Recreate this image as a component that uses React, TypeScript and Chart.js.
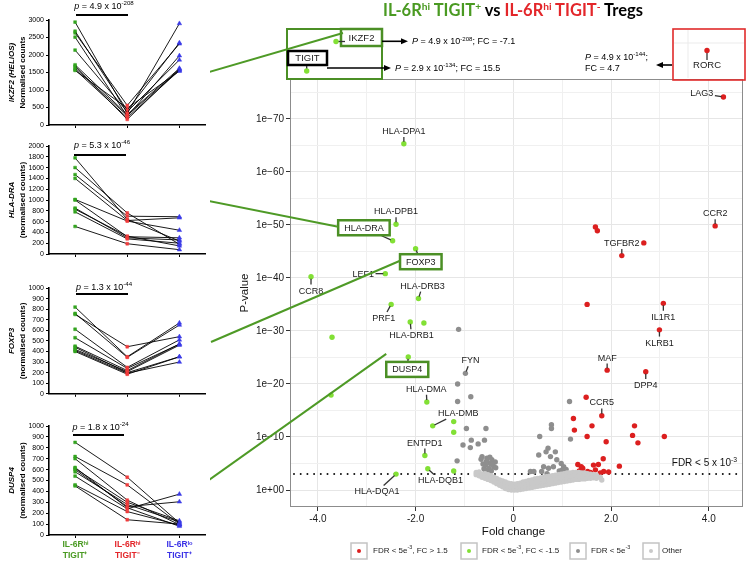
import React, { useEffect, useRef } from 'react';
import { Chart, registerables } from 'chart.js';

Chart.register(...registerables);

const FONT = '"Liberation Sans", Arial, Helvetica, sans-serif';
Chart.defaults.font.family = FONT;

// ---------------- Left panels: normalised counts per donor ----------------
const conditionTicks = [['IL-6Rʰⁱ', 'TIGIT⁺'], ['IL-6Rʰⁱ', 'TIGIT⁻'], ['IL-6Rˡᵒ', 'TIGIT⁺']];

const ikzf2Hi = [2940, 2680, 2630, 2510, 2140, 1720, 1680, 1630, 1580, 1560];
const ikzf2Neg = [330, 420, 560, 250, 380, 300, 160, 270, 210, 480];
const ikzf2Lo = [2900, 2350, 2320, 1980, 1860, 1620, 1600, 1580, 1560, 1540];

const hladraHi = [1780, 1600, 1470, 1400, 1010, 1000, 850, 780, 510, 830];
const hladraNeg = [640, 760, 700, 620, 610, 320, 300, 280, 190, 330];
const hladraLo = [240, 180, 690, 670, 440, 300, 260, 200, 80, 150];

const foxp3Hi = [820, 760, 750, 610, 530, 450, 440, 410, 400, 420];
const foxp3Neg = [350, 345, 445, 250, 240, 220, 200, 195, 185, 210];
const foxp3Lo = [670, 650, 540, 510, 470, 470, 350, 300, 350, 460];

const dusp4Hi = [850, 720, 700, 610, 600, 580, 540, 460, 450, 620];
const dusp4Neg = [530, 460, 320, 300, 260, 280, 240, 215, 140, 250];
const dusp4Lo = [110, 100, 95, 130, 305, 120, 375, 90, 100, 80];

const panelGenes = ['IKZF2 (HELIOS)', 'HLA-DRA', 'FOXP3', 'DUSP4'];
const panelUnits = ['Normalised counts', '(normalised counts)', '(normalised counts)', '(normalised counts)'];
const panelPMantissa = [4.9, 5.3, 1.3, 1.8];
const panelPExponent = [-208, -46, -44, -24];
const panelYMax = [3000, 2000, 1000, 1000];
const panelYStep = [500, 200, 100, 100];

// ---------------- Volcano plot: [gene, fold change, -log10 P] ----------------
const downGenes: [string, number, number][] = [
  ['HLA-DPA1', -2.24, 65.3], ['HLA-DPB1', -2.4, 50.1], ['HLA-DRA', -2.47, 47.0], ['FOXP3', -2.0, 45.5],
  ['LEF1', -2.62, 40.8], ['CCR8', -4.14, 40.2], ['HLA-DRB3', -1.94, 36.1], ['PRF1', -2.5, 35.0],
  ['HLA-DRB1', -2.11, 31.7], ['', -1.83, 31.5], ['', -3.71, 28.8], ['DUSP4', -2.15, 25.1],
  ['', -3.73, 17.9], ['HLA-DMA', -1.77, 16.6], ['', -1.22, 12.9], ['HLA-DMB', -1.65, 12.1],
  ['', -1.22, 10.9], ['ENTPD1', -1.81, 6.5], ['HLA-DQB1', -1.75, 4.0], ['', -1.22, 3.6],
  ['HLA-DQA1', -2.4, 3.0],
];

const upGenes: [string, number, number][] = [
  ['LAG3', 4.3, 74.1], ['CCR2', 4.13, 49.8], ['', 1.68, 49.6], ['', 1.72, 48.9], ['TGFBR2', 2.22, 44.2],
  ['', 2.67, 46.6], ['', 1.51, 35.0], ['IL1R1', 3.07, 35.2], ['KLRB1', 2.99, 30.2], ['MAF', 1.92, 22.6],
  ['DPP4', 2.71, 22.3], ['', 1.49, 17.5], ['CCR5', 1.81, 14.0], ['', 1.23, 13.5], ['', 1.61, 12.1],
  ['', 2.48, 12.1], ['', 1.25, 11.3], ['', 1.51, 10.1], ['', 2.44, 10.3], ['', 3.09, 10.1],
  ['', 1.9, 9.1], ['', 2.55, 8.9], ['', 1.84, 5.9], ['', 2.17, 4.5], ['', 1.32, 4.8], ['', 1.64, 4.7],
  ['', 1.74, 4.8], ['', 1.35, 3.6], ['', 1.52, 3.5], ['', 1.68, 3.8], ['', 1.85, 3.5], ['', 1.39, 4.4],
  ['', 1.28, 3.1], ['', 1.42, 4.1], ['', 1.47, 3.2], ['', 1.58, 3.3], ['', 1.78, 3.2], ['', 1.95, 3.4],
];

const sigGenes: [string, number, number][] = [
  ['', -1.12, 30.3], ['FYN', -0.98, 22.0], ['', -1.14, 20.0], ['', -1.14, 16.7], ['', -0.87, 17.6],
  ['', -0.96, 11.6], ['', -0.56, 11.6], ['', -0.86, 9.4], ['', -0.59, 9.4], ['', -1.03, 8.5],
  ['', -0.88, 8.0], ['', -0.72, 8.7], ['', -1.15, 5.5], ['', -0.64, 6.3], ['', -0.54, 6.0],
  ['', -0.44, 5.7], ['', -0.37, 5.3], ['', -0.47, 5.0], ['', -0.4, 4.4], ['', -0.57, 4.7],
  ['', -0.5, 4.1], ['', -0.6, 4.0], ['', -0.45, 3.6], ['', -0.52, 3.4], ['', -0.66, 5.8],
  ['', -0.62, 4.9], ['', -0.55, 5.4], ['', -0.48, 6.2], ['', -0.42, 4.8], ['', -0.36, 4.2],
  ['', -0.58, 3.8], ['', 0.54, 10.1], ['', 0.78, 12.3], ['', 0.78, 11.6], ['', 1.15, 16.7],
  ['', 1.17, 9.6], ['', 0.71, 7.9], ['', 0.67, 7.2], ['', 0.86, 7.2], ['', 0.76, 6.3],
  ['', 0.89, 5.7], ['', 0.98, 5.0], ['', 0.62, 4.4], ['', 0.72, 4.1], ['', 0.82, 4.4],
  ['', 1.03, 4.4], ['', 0.52, 6.6], ['', 0.94, 3.6], ['', 0.58, 3.5], ['', 1.08, 3.9],
  ['', 0.35, 3.5], ['', 0.42, 3.5], ['', 0.69, 3.1], ['', 1.0, 3.8],
];

const otherGenes: [number, number][] = [
  [-0.76, 3.3], [-0.76, 2.9], [-0.7, 3.4], [-0.7, 2.7], [-0.64, 3.0], [-0.64, 2.4], [-0.58, 3.1], [-0.58, 2.2],
  [-0.58, 2.7], [-0.52, 2.9], [-0.52, 2.0], [-0.52, 2.5], [-0.46, 2.7], [-0.46, 1.8], [-0.46, 2.2],
  [-0.4, 2.4], [-0.4, 1.5], [-0.4, 2.0], [-0.34, 2.2], [-0.34, 1.2], [-0.34, 1.7], [-0.28, 1.9], [-0.28, 0.9],
  [-0.28, 1.4], [-0.22, 1.7], [-0.22, 0.6], [-0.22, 1.2], [-0.16, 1.5], [-0.16, 0.3], [-0.16, 1.0],
  [-0.1, 1.3], [-0.1, 0.1], [-0.1, 0.8], [-0.04, 1.2], [-0.04, 0.0], [-0.04, 0.6], [0.02, 1.1], [0.02, 0.0],
  [0.02, 0.5], [0.08, 1.2], [0.08, 0.0], [0.08, 0.6], [0.14, 1.3], [0.14, 0.1], [0.14, 0.7], [0.2, 1.5],
  [0.2, 0.2], [0.2, 0.9], [0.26, 1.6], [0.26, 0.3], [0.26, 1.0], [0.32, 1.8], [0.32, 0.4], [0.32, 1.1],
  [0.38, 1.9], [0.38, 0.5], [0.38, 1.2], [0.44, 2.1], [0.44, 0.6], [0.44, 1.4], [0.5, 2.2], [0.5, 0.7],
  [0.5, 1.5], [0.56, 2.3], [0.56, 0.8], [0.56, 1.6], [0.62, 2.4], [0.62, 0.9], [0.62, 1.7], [0.68, 2.5],
  [0.68, 1.0], [0.68, 1.8], [0.74, 2.6], [0.74, 1.1], [0.74, 1.9], [0.8, 2.7], [0.8, 1.2], [0.8, 2.0],
  [0.86, 2.8], [0.86, 1.3], [0.86, 2.1], [0.92, 2.9], [0.92, 1.4], [0.92, 2.2], [0.98, 3.0], [0.98, 1.5],
  [0.98, 2.3], [1.04, 3.1], [1.04, 1.6], [1.04, 2.4], [1.1, 3.2], [1.1, 1.7], [1.1, 2.5], [1.16, 3.2],
  [1.16, 1.8], [1.16, 2.6], [1.22, 3.3], [1.22, 1.9], [1.22, 2.6], [1.28, 3.3], [1.28, 2.0], [1.28, 2.7],
  [1.34, 3.3], [1.34, 2.0], [1.34, 2.7], [1.4, 3.2], [1.4, 2.1], [1.4, 2.7], [1.46, 3.2], [1.46, 2.1],
  [1.46, 2.7], [1.52, 3.1], [1.52, 2.2], [1.52, 2.7], [1.58, 3.0], [1.58, 2.2], [1.64, 2.9], [1.64, 2.3],
  [1.7, 2.8], [1.7, 2.2], [1.78, 2.4], [1.81, 1.9],
];

const fdrLine = 3.0;
const yGridValues = [0, 5, 10, 15, 20, 25, 30, 35, 40, 45, 50, 55, 60, 65, 70, 75];
const xGridValues = [-4, -3, -2, -1, 0, 1, 2, 3, 4];

// Off-scale genes shown in the broken-axis insets
const insetGenes = ['IKZF2', 'TIGIT', 'RORC'];
const insetPMantissa = [4.9, 2.9, 4.9];
const insetPExponent = [-208, -134, -144];
const insetFC = [-7.1, 15.5, 4.7];

const legendLabels = ['FDR < 5e^-3^, FC > 1.5', 'FDR < 5e^-3^, FC < -1.5', 'FDR < 5e^-3^', 'Other'];

// ---------------- styles / layout ----------------
const GREEN_BOX = '#4b8f25';
const COL_UP = '#dc1f1f';
const COL_DOWN = '#82e035';
const COL_SIG = '#8e8e8e';
const COL_OTHER = '#c9c9c9';
const TICK_COLORS = ['#4a9a22', '#e3262a', '#3b32e6'];
const POINT_COLORS = ['#34a420', '#f03c3c', '#3a3ae6'];

const PANEL_LAYOUT = [
  { top: 0, height: 135, padTop: 20, xAxisH: 10, pY: 6, barY: 15, barX0: 76, barX1: 128 },
  { top: 130, height: 135, padTop: 16, xAxisH: 11, pY: 145, barY: 155, barX0: 74, barX1: 126 },
  { top: 268, height: 132, padTop: 20, xAxisH: 4, pY: 287, barY: 294, barX0: 76, barX1: 128 },
  { top: 403, height: 160, padTop: 23, xAxisH: 28, pY: 427, barY: 435, barX0: 73, barX1: 124 },
];

const LABEL_OFFSET: Record<string, [number, number]> = {
  'HLA-DPA1': [0, -12.6], 'HLA-DPB1': [0, -13], 'HLA-DRA': [-28.7, -13], FOXP3: [5.2, 13],
  LEF1: [-22, 0], CCR8: [0, 13.7], 'HLA-DRB3': [4, -13], PRF1: [-7.4, 13.6], 'HLA-DRB1': [1.3, 13.4],
  DUSP4: [-1, 12.5], FYN: [5, -13], 'HLA-DMA': [-0.6, -13.3], 'HLA-DMB': [25.6, -12.7], ENTPD1: [0, -13],
  'HLA-DQB1': [12.7, 11.7], 'HLA-DQA1': [-19, 17.3], LAG3: [-21.6, -3.7], CCR2: [0, -12.7],
  TGFBR2: [0, -12.7], IL1R1: [0, 13.4], KLRB1: [0, 12.7], MAF: [0, -12.6], DPP4: [0, 13.3], CCR5: [0, -13.3],
};
const BOXED = ['HLA-DRA', 'FOXP3', 'DUSP4'];
const LINKS: { from: [number, number]; to: string }[] = [
  { from: [209, 72], to: 'IKZF2' },
  { from: [209, 201], to: 'HLA-DRA' },
  { from: [211, 342], to: 'FOXP3' },
  { from: [209, 480], to: 'DUSP4' },
];
const VOLCANO_LEFT = 210;

// ---------------- rich text helpers ----------------
type Part = { t: string; sup: boolean; it: boolean };
function parseRich(s: string): Part[] {
  const out: Part[] = [];
  let cur = '';
  let sup = false;
  let it = false;
  for (const ch of s) {
    if (ch === '^' || ch === '*') {
      if (cur) out.push({ t: cur, sup, it });
      cur = '';
      if (ch === '^') sup = !sup;
      else it = !it;
    } else cur += ch;
  }
  if (cur) out.push({ t: cur, sup, it });
  return out;
}

function drawRich(
  ctx: CanvasRenderingContext2D, s: string, x: number, yMid: number, size: number,
  align: 'left' | 'center' | 'right', color: string, weight = 'normal',
) {
  const parts = parseRich(s);
  const f = (p: Part) => `${p.it ? 'italic ' : ''}${weight} ${p.sup ? size * 0.68 : size}px ${FONT}`;
  let w = 0;
  for (const p of parts) {
    ctx.font = f(p);
    w += ctx.measureText(p.t).width;
  }
  let cx = align === 'center' ? x - w / 2 : align === 'right' ? x - w : x;
  const base = yMid + size * 0.35;
  ctx.textAlign = 'left';
  ctx.textBaseline = 'alphabetic';
  ctx.fillStyle = color;
  for (const p of parts) {
    ctx.font = f(p);
    ctx.fillText(p.t, cx, p.sup ? base - size * 0.42 : base);
    cx += ctx.measureText(p.t).width;
  }
}

function line(ctx: CanvasRenderingContext2D, x0: number, y0: number, x1: number, y1: number) {
  ctx.beginPath();
  ctx.moveTo(x0, y0);
  ctx.lineTo(x1, y1);
  ctx.stroke();
}

function arrow(ctx: CanvasRenderingContext2D, x0: number, y0: number, x1: number, y1: number) {
  const a = Math.atan2(y1 - y0, x1 - x0);
  const hl = 7;
  const hw = 3;
  ctx.strokeStyle = '#000';
  ctx.fillStyle = '#000';
  ctx.lineWidth = 1.6;
  line(ctx, x0, y0, x1 - Math.cos(a) * hl * 0.8, y1 - Math.sin(a) * hl * 0.8);
  ctx.beginPath();
  ctx.moveTo(x1, y1);
  ctx.lineTo(x1 - Math.cos(a) * hl - Math.sin(a) * hw, y1 - Math.sin(a) * hl + Math.cos(a) * hw);
  ctx.lineTo(x1 - Math.cos(a) * hl + Math.sin(a) * hw, y1 - Math.sin(a) * hl - Math.cos(a) * hw);
  ctx.closePath();
  ctx.fill();
}

// ---------------- Left panel component ----------------
function CountPanel({ idx }: { idx: number }) {
  const ref = useRef<HTMLCanvasElement>(null);
  const L = PANEL_LAYOUT[idx];
  useEffect(() => {
    const hi = [ikzf2Hi, hladraHi, foxp3Hi, dusp4Hi][idx];
    const neg = [ikzf2Neg, hladraNeg, foxp3Neg, dusp4Neg][idx];
    const lo = [ikzf2Lo, hladraLo, foxp3Lo, dusp4Lo][idx];
    const overlay = {
      id: 'panelOverlay',
      afterDraw(chart: any) {
        const { ctx, chartArea: ca } = chart;
        ctx.save();
        const cy = (ca.top + ca.bottom) / 2;
        ctx.translate(12, cy);
        ctx.rotate(-Math.PI / 2);
        ctx.textAlign = 'center';
        ctx.textBaseline = 'middle';
        ctx.fillStyle = '#000';
        ctx.font = `italic bold 8px ${FONT}`;
        ctx.fillText(panelGenes[idx], 0, 0);
        ctx.font = `bold 8px ${FONT}`;
        ctx.fillText(panelUnits[idx], 0, 11);
        ctx.restore();
        ctx.save();
        drawRich(ctx, `*p* = ${panelPMantissa[idx]} x 10^${panelPExponent[idx]}^`, (L.barX0 + L.barX1) / 2 + 2,
          L.pY - L.top, 9, 'center', '#000');
        ctx.strokeStyle = '#000';
        ctx.lineWidth = 2;
        line(ctx, L.barX0, L.barY - L.top, L.barX1, L.barY - L.top);
        ctx.restore();
      },
    };
    const chart = new Chart(ref.current!, {
      type: 'line',
      data: {
        labels: conditionTicks as any,
        datasets: hi.map((h, i) => ({
          data: [h, neg[i], lo[i]],
          borderColor: '#000',
          borderWidth: 0.9,
          pointStyle: ['rect', 'rect', 'triangle'],
          pointRadius: [2, 2, 2.6],
          pointBackgroundColor: POINT_COLORS,
          pointBorderColor: POINT_COLORS,
          pointBorderWidth: 0.5,
          tension: 0,
          fill: false,
        })) as any,
      },
      options: {
        animation: false,
        responsive: false,
        layout: { padding: { top: L.padTop, right: 3, left: 0, bottom: 0 } },
        plugins: { legend: { display: false }, tooltip: { enabled: false } },
        scales: {
          x: {
            offset: true,
            grid: { display: true, drawOnChartArea: false, drawTicks: true, tickLength: 3, color: '#000', offset: false },
            border: { display: true, color: '#000', width: 1.6 },
            ticks: {
              display: idx === 3,
              color: (c: any) => TICK_COLORS[c.index],
              font: { size: 8.5, weight: 'bold', family: FONT, lineHeight: 1.2 },
              padding: 2,
              maxRotation: 0,
              autoSkip: false,
            },
            afterFit: (s: any) => { s.height = L.xAxisH; },
          },
          y: {
            min: 0,
            max: panelYMax[idx],
            ticks: {
              stepSize: panelYStep[idx],
              font: { size: 7, family: FONT },
              color: '#000',
              padding: 2,
              autoSkip: false,
              callback: (v: any) => String(v),
            },
            grid: { drawOnChartArea: false, tickLength: 3, color: '#000' },
            border: { color: '#000', width: 1.6 },
            afterFit: (s: any) => { s.width = 49; },
          },
        },
      } as any,
      plugins: [overlay],
    });
    return () => chart.destroy();
  }, [idx]);
  return (
    <canvas ref={ref} width={210} height={L.height}
      style={{ position: 'absolute', left: 0, top: L.top, width: 210, height: L.height }} />
  );
}

// ---------------- Volcano component ----------------
function Volcano() {
  const ref = useRef<HTMLCanvasElement>(null);
  useEffect(() => {
    const overlay = {
      id: 'volcanoOverlay',
      beforeDatasetsDraw(chart: any) {
        const { ctx, chartArea: ca, scales } = chart;
        const fy = scales.y.getPixelForValue(fdrLine);
        ctx.save();
        ctx.strokeStyle = '#111';
        ctx.lineWidth = 2;
        ctx.lineCap = 'round';
        ctx.setLineDash([0, 6.7]);
        line(ctx, ca.left + 4, fy, ca.right - 2, fy);
        ctx.restore();
      },
      afterDatasetsDraw(chart: any) {
        const { ctx, chartArea: ca } = chart;
        const xs = chart.scales.x;
        const ys = chart.scales.y;
        ctx.save();
        // panel border
        ctx.strokeStyle = '#8c8c8c';
        ctx.lineWidth = 1;
        ctx.strokeRect(ca.left + 0.5, ca.top + 0.5, ca.right - ca.left - 1, ca.bottom - ca.top - 1);

        // FDR threshold label
        drawRich(ctx, 'FDR < 5 x 10^-3^', ca.right - 6, ys.getPixelForValue(fdrLine) - 11.5, 10, 'right', '#111');

        // gene labels
        const boxes: Record<string, { x0: number; y0: number; x1: number; y1: number }> = {};
        const labelled = [...downGenes, ...upGenes, ...sigGenes].filter((g) => g[0]);
        for (const [name, fc, p] of labelled) {
          const px = xs.getPixelForValue(fc);
          const py = ys.getPixelForValue(p);
          const [dx, dy] = LABEL_OFFSET[name] || [0, -13];
          const tx = px + dx;
          const ty = py + dy;
          ctx.font = `9px ${FONT}`;
          const w = ctx.measureText(name).width;
          const boxed = BOXED.includes(name);
          const hw = w / 2 + (boxed ? 6 : 1.5);
          const hh = boxed ? 8 : 6;
          const vx = px - tx;
          const vy = py - ty;
          const s = Math.max(Math.abs(vx) / hw, Math.abs(vy) / hh);
          if (s > 1) {
            const bx = tx + vx / s;
            const by = ty + vy / s;
            const len = Math.hypot(px - bx, py - by);
            if (len > 2.5) {
              const ex = px - ((px - bx) / len) * 2;
              const ey = py - ((py - by) / len) * 2;
              ctx.strokeStyle = '#333';
              ctx.lineWidth = 1.3;
              line(ctx, bx, by, ex, ey);
            }
          }
          if (boxed) {
            const b = { x0: tx - hw, y0: ty - 7.5, x1: tx + hw, y1: ty + 7.5 };
            ctx.fillStyle = '#fff';
            ctx.fillRect(b.x0, b.y0, b.x1 - b.x0, b.y1 - b.y0);
            ctx.strokeStyle = GREEN_BOX;
            ctx.lineWidth = 2.5;
            ctx.strokeRect(b.x0, b.y0, b.x1 - b.x0, b.y1 - b.y0);
            boxes[name] = b;
          }
          ctx.fillStyle = '#1a1a1a';
          ctx.textAlign = 'center';
          ctx.textBaseline = 'middle';
          ctx.font = `9px ${FONT}`;
          ctx.fillText(name, tx, ty + 0.5);
        }

        // ---- broken-axis inset (left): IKZF2, TIGIT ----
        ctx.strokeStyle = GREEN_BOX;
        ctx.lineWidth = 2;
        ctx.strokeRect(ca.left - 3, ca.top - 50, 95, 50);
        // IKZF2
        const ik = { x0: ca.left + 51, y0: ca.top - 50, x1: ca.left + 92, y1: ca.top - 33 };
        boxes.IKZF2 = ik;
        ctx.fillStyle = '#fff';
        ctx.fillRect(ik.x0, ik.y0, ik.x1 - ik.x0, ik.y1 - ik.y0);
        ctx.lineWidth = 2.5;
        ctx.strokeRect(ik.x0, ik.y0, ik.x1 - ik.x0, ik.y1 - ik.y0);
        ctx.fillStyle = '#1a1a1a';
        ctx.font = `9.5px ${FONT}`;
        ctx.textAlign = 'center';
        ctx.textBaseline = 'middle';
        ctx.fillText(insetGenes[0], ca.left + 71.5, ca.top - 40.5);
        ctx.strokeStyle = '#333';
        ctx.lineWidth = 1.3;
        line(ctx, ca.left + 48, ca.top - 37.5, ca.left + 55, ca.top - 37.5);
        ctx.fillStyle = COL_DOWN;
        ctx.beginPath();
        ctx.arc(ca.left + 46, ca.top - 37.5, 2.7, 0, Math.PI * 2);
        ctx.fill();
        // TIGIT
        ctx.fillStyle = '#fff';
        ctx.fillRect(ca.left - 2, ca.top - 28, 39, 14);
        ctx.strokeStyle = '#000';
        ctx.lineWidth = 2.5;
        ctx.strokeRect(ca.left - 2, ca.top - 28, 39, 14);
        ctx.fillStyle = '#1a1a1a';
        ctx.fillText(insetGenes[1], ca.left + 17.5, ca.top - 20.5);
        ctx.strokeStyle = '#333';
        ctx.lineWidth = 1.3;
        line(ctx, ca.left + 16.7, ca.top - 13, ca.left + 16.7, ca.top - 10);
        ctx.fillStyle = COL_DOWN;
        ctx.beginPath();
        ctx.arc(ca.left + 16.7, ca.top - 8, 2.7, 0, Math.PI * 2);
        ctx.fill();
        // arrows + annotations
        arrow(ctx, ca.left + 92, ca.top - 37.7, ca.left + 118, ca.top - 37.7);
        drawRich(ctx, `*P* = ${insetPMantissa[0]} x 10^${insetPExponent[0]}^; FC = ${insetFC[0]}`,
          ca.left + 122, ca.top - 37.7, 9, 'left', '#000');
        arrow(ctx, ca.left + 37, ca.top - 11, ca.left + 101, ca.top - 11);
        drawRich(ctx, `*P* = ${insetPMantissa[1]} x 10^${insetPExponent[1]}^; FC = ${insetFC[1]}`,
          ca.left + 105, ca.top - 11, 9, 'left', '#000');

        // ---- broken-axis inset (right): RORC ----
        const rx0 = ca.right - 70;
        const rx1 = ca.right + 2;
        ctx.strokeStyle = '#ebebeb';
        ctx.lineWidth = 1;
        line(ctx, rx0 + 1, ca.top - 36, rx1 - 1, ca.top - 36);
        line(ctx, ca.right - 55, ca.top - 49, ca.right - 55, ca.top - 1);
        ctx.strokeStyle = '#e02b2b';
        ctx.lineWidth = 1.6;
        ctx.strokeRect(rx0, ca.top - 50, rx1 - rx0, 51);
        ctx.strokeStyle = '#333';
        ctx.lineWidth = 1.3;
        line(ctx, ca.right - 36, ca.top - 26, ca.right - 36, ca.top - 19);
        ctx.fillStyle = COL_UP;
        ctx.beginPath();
        ctx.arc(ca.right - 36, ca.top - 28.5, 2.7, 0, Math.PI * 2);
        ctx.fill();
        ctx.fillStyle = '#1a1a1a';
        ctx.font = `9.5px ${FONT}`;
        ctx.textAlign = 'center';
        ctx.textBaseline = 'middle';
        ctx.fillText(insetGenes[2], ca.right - 36, ca.top - 13.5);
        arrow(ctx, rx0 - 1, ca.top - 14, ca.right - 87, ca.top - 14);
        drawRich(ctx, `*P* = ${insetPMantissa[2]} x 10^${insetPExponent[2]}^;`, ca.right - 158, ca.top - 22.5, 9, 'left', '#000');
        drawRich(ctx, `FC = ${insetFC[2]}`, ca.right - 158, ca.top - 11, 9, 'left', '#000');

        // axis titles
        ctx.save();
        ctx.translate(35, (ca.top + ca.bottom) / 2);
        ctx.rotate(-Math.PI / 2);
        ctx.fillStyle = '#111';
        ctx.font = `11.5px ${FONT}`;
        ctx.textAlign = 'center';
        ctx.textBaseline = 'middle';
        ctx.fillText('P-value', 0, 0);
        ctx.restore();
        ctx.fillStyle = '#111';
        ctx.font = `11.5px ${FONT}`;
        ctx.textAlign = 'center';
        ctx.textBaseline = 'middle';
        ctx.fillText('Fold change', (ca.left + ca.right) / 2 - 3, ca.bottom + 25);

        // legend
        const legendColors = [COL_UP, COL_DOWN, COL_SIG, COL_OTHER];
        const boxLeft = [351, 461, 570, 643];
        const textLeft = [373, 482, 591, 662];
        const ly = ca.bottom + 44;
        for (let i = 0; i < 4; i++) {
          const bx = boxLeft[i] - VOLCANO_LEFT;
          ctx.strokeStyle = '#c4c4c4';
          ctx.lineWidth = 1.5;
          ctx.strokeRect(bx, ly - 8, 16, 16);
          ctx.fillStyle = legendColors[i];
          ctx.beginPath();
          ctx.arc(bx + 8, ly, 2, 0, Math.PI * 2);
          ctx.fill();
          drawRich(ctx, legendLabels[i], textLeft[i] - VOLCANO_LEFT, ly - 1, 8, 'left', '#222');
        }

        // links from the left panels
        ctx.strokeStyle = '#4e9a26';
        ctx.lineWidth = 2;
        for (const l of LINKS) {
          const b = boxes[l.to];
          if (!b) continue;
          let ex = b.x0;
          let ey = (b.y0 + b.y1) / 2 - 1;
          if (l.to === 'IKZF2') { ex = b.x0 + 2; ey = b.y0 + 4; }
          if (l.to === 'DUSP4') { ex = b.x0; ey = b.y0 - 8; }
          line(ctx, l.from[0] - VOLCANO_LEFT, l.from[1], ex, ey);
        }
        ctx.restore();
      },
    };

    const chart = new Chart(ref.current!, {
      type: 'scatter',
      data: {
        datasets: [
          { data: otherGenes.map(([fc, p]) => ({ x: fc, y: p })), pointBackgroundColor: COL_OTHER },
          { data: sigGenes.map((g) => ({ x: g[1], y: g[2] })), pointBackgroundColor: COL_SIG },
          { data: downGenes.map((g) => ({ x: g[1], y: g[2] })), pointBackgroundColor: COL_DOWN },
          { data: upGenes.map((g) => ({ x: g[1], y: g[2] })), pointBackgroundColor: COL_UP },
        ].map((d) => ({ ...d, pointRadius: 2.7, pointBorderWidth: 0, pointHoverRadius: 2.7 })),
      },
      options: {
        animation: false,
        responsive: false,
        layout: { padding: { left: 0, right: 7, top: 79, bottom: 0 } },
        plugins: { legend: { display: false }, tooltip: { enabled: false } },
        scales: {
          x: {
            type: 'linear',
            min: -4.57,
            max: 4.7,
            afterBuildTicks: (s: any) => { s.ticks = xGridValues.map((v) => ({ value: v })); },
            afterFit: (s: any) => { s.height = 56; },
            ticks: {
              callback: (v: any) => (v % 2 === 0 ? (v === 0 ? '0' : Number(v).toFixed(1)) : ''),
              font: { size: 10, family: FONT },
              color: '#1a1a1a',
              padding: 2,
              maxRotation: 0,
              autoSkip: false,
            },
            grid: {
              color: (c: any) => (c.tick && c.tick.value % 2 === 0 ? '#e6e6e6' : '#f0f0f0'),
              tickColor: (c: any) => (c.tick && c.tick.value % 2 === 0 ? '#333' : 'rgba(0,0,0,0)'),
              tickLength: 4,
              lineWidth: 1,
            },
            border: { display: false },
          },
          y: {
            type: 'linear',
            min: -3.2,
            max: 77.5,
            afterBuildTicks: (s: any) => { s.ticks = yGridValues.map((v) => ({ value: v })); },
            afterFit: (s: any) => { s.width = 80; },
            ticks: {
              callback: (v: any) => (v % 10 === 0 ? (v === 0 ? '1e+00' : `1e−${v}`) : ''),
              font: { size: 10, family: FONT },
              color: '#1a1a1a',
              padding: 2,
              autoSkip: false,
            },
            grid: {
              color: (c: any) => (c.tick && c.tick.value % 10 === 0 ? '#e6e6e6' : '#f0f0f0'),
              tickColor: (c: any) => (c.tick && c.tick.value % 10 === 0 ? '#333' : 'rgba(0,0,0,0)'),
              tickLength: 4,
              lineWidth: 1,
            },
            border: { display: false },
          },
        },
      } as any,
      plugins: [overlay],
    });
    return () => chart.destroy();
  }, []);
  return (
    <canvas ref={ref} width={540} height={563}
      style={{ position: 'absolute', left: VOLCANO_LEFT, top: 0, width: 540, height: 563 }} />
  );
}

const supStyle: React.CSSProperties = { fontSize: '0.62em', verticalAlign: '0.6em', lineHeight: 0 };

export default function App() {
  useEffect(() => {
    document.body.style.margin = '0';
  }, []);
  return (
    <div style={{ position: 'absolute', left: 0, top: 0, width: 750, height: 563, background: '#fff', overflow: 'hidden' }}>
      {[0, 1, 2, 3].map((i) => <CountPanel key={i} idx={i} />)}
      <Volcano />
      <div style={{
        position: 'absolute', left: 263, top: 0, width: 500, textAlign: 'center',
        font: `bold 16.5px Lato, "Open Sans", sans-serif`, lineHeight: '20px', whiteSpace: 'nowrap', color: '#000',
      }}>
        <span style={{ color: '#4a9a22' }}>IL-6R<sup style={supStyle}>hi</sup> TIGIT<sup style={supStyle}>+</sup></span>
        {' vs '}
        <span style={{ color: '#e3262a' }}>IL-6R<sup style={supStyle}>hi</sup> TIGIT<sup style={supStyle}>-</sup></span>
        {' Tregs'}
      </div>
    </div>
  );
}
